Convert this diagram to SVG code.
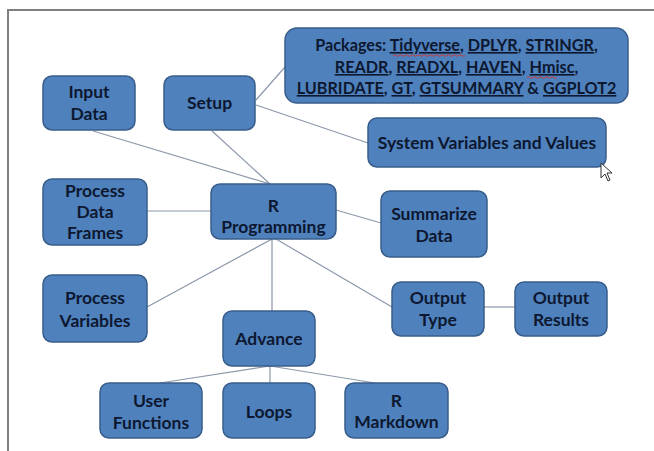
<svg xmlns="http://www.w3.org/2000/svg" width="654" height="451" viewBox="0 0 654 451">
<style>
.box{fill:#4f81bd;stroke:#385d8a;stroke-width:1.5}
.t{font-family:Lato,"Liberation Sans",sans-serif;font-weight:bold;font-size:17.5px;fill:#0d1830;text-anchor:middle}
.p{font-size:16.2px}
.u{text-decoration:underline}
.c{stroke:#8c98aa;stroke-width:1.2;fill:none}
.sq{stroke:#c83a3a;stroke-width:1;fill:none}
</style>
<rect x="0" y="0" width="654" height="451" fill="#ffffff"/>
<path d="M8,451 V10 H654" fill="none" stroke="#808080" stroke-width="2"/>
<g id="connectors">
<line class="c" x1="256" y1="100" x2="285" y2="67"/>
<line class="c" x1="256" y1="105" x2="368" y2="143"/>
<line class="c" x1="93" y1="131" x2="270" y2="184"/>
<line class="c" x1="212" y1="131" x2="270" y2="184"/>
<line class="c" x1="147" y1="211" x2="211" y2="211"/>
<line class="c" x1="336" y1="210" x2="381" y2="223"/>
<line class="c" x1="272" y1="239" x2="147" y2="307"/>
<line class="c" x1="272" y1="239" x2="272" y2="311"/>
<line class="c" x1="276" y1="239" x2="392" y2="307"/>
<line class="c" x1="484" y1="307" x2="515" y2="307"/>
<line class="c" x1="270" y1="366" x2="160" y2="383"/>
<line class="c" x1="270" y1="366" x2="270" y2="383"/>
<line class="c" x1="270" y1="366" x2="375" y2="383"/>
</g>
<g id="input-data">
<rect class="box" x="43" y="76" width="92" height="54" rx="9"/>
<text class="t" x="89" y="98">Input</text>
<text class="t" x="89" y="120">Data</text>
</g>
<g id="setup">
<rect class="box" x="164" y="76" width="91" height="54" rx="9"/>
<text class="t" x="209.5" y="109">Setup</text>
</g>
<g id="packages">
<rect class="box" x="285" y="28" width="343" height="75" rx="12"/>
<text class="t p" x="456.5" y="51">Packages: <tspan class="u">Tidyverse</tspan>, <tspan class="u">DPLYR</tspan>, <tspan class="u">STRINGR</tspan>,</text>
<text class="t p" x="456.5" y="73"><tspan class="u">READR</tspan>, <tspan class="u">READXL</tspan>, <tspan class="u">HAVEN</tspan>, <tspan class="u">Hmisc</tspan>,</text>
<text class="t p" x="456.5" y="94"><tspan class="u">LUBRIDATE</tspan>, <tspan class="u">GT</tspan>, <tspan class="u">GTSUMMARY</tspan> &amp; <tspan class="u">GGPLOT2</tspan></text>
<path class="sq" d="M393,55.5 q1.5,-1.5 3,0 t3,0 t3,0 t3,0 t3,0 t3,0 t3,0 t3,0 t3,0 t3,0 t3,0 t3,0 t3,0 t3,0 t3,0 t3,0 t3,0 t3,0 t3,0 t3,0 t3,0 t3,0 t3,0 t3,0"/>
<path class="sq" d="M527,77.5 q1.5,-1.5 3,0 t3,0 t3,0 t3,0 t3,0 t3,0 t3,0 t3,0 t3,0 t3,0"/>
</g>
<g id="system-variables">
<rect class="box" x="368" y="118" width="238" height="49" rx="9"/>
<text class="t" x="487" y="148.5">System Variables and Values</text>
</g>
<g id="process-data-frames">
<rect class="box" x="43" y="179" width="104" height="66" rx="9"/>
<text class="t" x="95" y="197">Process</text>
<text class="t" x="95" y="218">Data</text>
<text class="t" x="95" y="239">Frames</text>
</g>
<g id="r-programming">
<rect class="box" x="211" y="184" width="125" height="55" rx="9"/>
<text class="t" x="273.5" y="212">R</text>
<text class="t" x="273.5" y="233">Programming</text>
</g>
<g id="summarize-data">
<rect class="box" x="381" y="191" width="106" height="66" rx="9"/>
<text class="t" x="434" y="220">Summarize</text>
<text class="t" x="434" y="242">Data</text>
</g>
<g id="process-variables">
<rect class="box" x="43" y="275" width="104" height="67" rx="9"/>
<text class="t" x="95" y="304">Process</text>
<text class="t" x="95" y="327">Variables</text>
</g>
<g id="output-type">
<rect class="box" x="392" y="282" width="92" height="54" rx="9"/>
<text class="t" x="438" y="304">Output</text>
<text class="t" x="438" y="326">Type</text>
</g>
<g id="output-results">
<rect class="box" x="515" y="282" width="92" height="54" rx="9"/>
<text class="t" x="561" y="304">Output</text>
<text class="t" x="561" y="326">Results</text>
</g>
<g id="advance">
<rect class="box" x="223" y="311" width="92" height="55" rx="9"/>
<text class="t" x="269" y="345">Advance</text>
</g>
<g id="user-functions">
<rect class="box" x="100" y="383" width="102" height="55" rx="9"/>
<text class="t" x="151" y="407">User</text>
<text class="t" x="151" y="429">Functions</text>
</g>
<g id="loops">
<rect class="box" x="223" y="383" width="92" height="55" rx="9"/>
<text class="t" x="269" y="418">Loops</text>
</g>
<g id="r-markdown">
<rect class="box" x="345" y="383" width="103" height="55" rx="9"/>
<text class="t" x="396.5" y="407">R</text>
<text class="t" x="396.5" y="428">Markdown</text>
</g>
<path d="M601,163 L601,178 L605,174 L608,181 L610,180 L607,173 L612,173 Z" fill="#ffffff" stroke="#333333" stroke-width="1"/>
</svg>
